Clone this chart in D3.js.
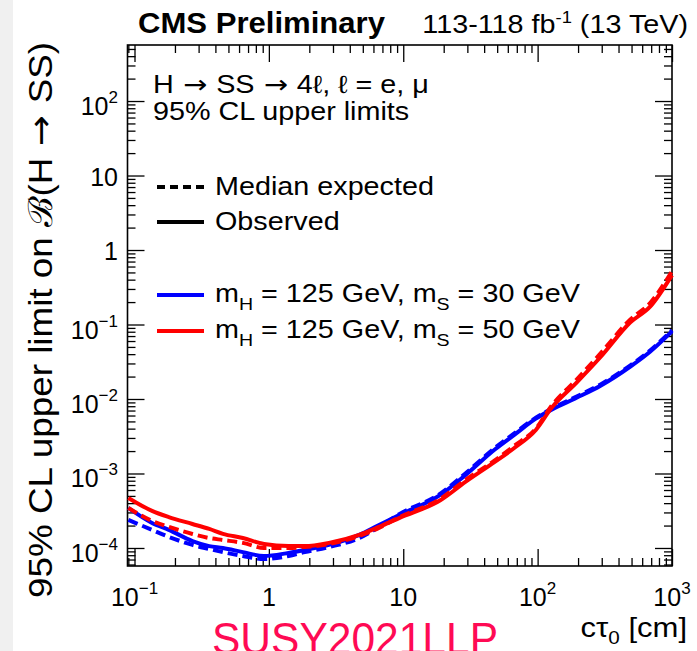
<!DOCTYPE html>
<html>
<head>
    <title>H to SS limits</title>
    <script src="https://d3js.org/d3.v7.min.js"></script>
    <style>
        body { margin: 0; background: #fff; }
        svg { display: block; }
        text { font-family: "Liberation Sans", Arial, Helvetica, sans-serif; fill: #000; }
        .arrow { font-family: "DejaVu Sans", sans-serif; }
        .tick line { stroke: #000; stroke-width: 1.3px; }
        .curve { fill: none; stroke-width: 4px; }
    </style>
</head>
<body>
    <svg></svg>
    <script>
        // c*tau0 [cm] sampled along the curves
        const ctau = [0.09, 0.135, 0.18, 0.27, 0.36, 0.455, 0.64, 0.92, 1.4, 1.85, 2.8, 4.7, 6.6, 9.4,
                      19, 29, 48, 67, 97, 127, 195, 294, 490, 690, 1000];

        // mS = 30 GeV
        const exp30 = [2.38e-4, 1.75e-4, 1.41e-4, 1.1e-4, 9.7e-5, 8.8e-5, 7.8e-5, 7.1e-5, 7.8e-5, 8.8e-5,
                       1.03e-4, 1.36e-4, 1.92e-4, 2.87e-4, 5.4e-4, 1.0e-3, 2.2e-3, 3.45e-3, 5.6e-3,
                       7.4e-3, 0.0108, 0.0157, 0.0283, 0.045, 0.084];
        const obs30 = [3.45e-4, 2.17e-4, 1.75e-4, 1.24e-4, 1.06e-4, 1.0e-4, 8.8e-5, 7.8e-5, 8.6e-5, 9.4e-5,
                       1.1e-4, 1.5e-4, 2.04e-4, 2.78e-4, 5.2e-4, 9.5e-4, 2.1e-3, 3.3e-3, 5.44e-3,
                       7.2e-3, 0.0104, 0.0151, 0.0273, 0.0435, 0.081];

        // mS = 50 GeV
        const exp50 = [3.45e-4, 2.31e-4, 1.92e-4, 1.54e-4, 1.36e-4, 1.28e-4, 1.17e-4, 1.0e-4, 1.0e-4, 1.03e-4,
                       1.13e-4, 1.45e-4, 1.86e-4, 2.6e-4, 4.6e-4, 8.2e-4, 1.5e-3, 2.35e-3, 4.0e-3,
                       8.1e-3, 0.0182, 0.0409, 0.117, 0.196, 0.52];
        const obs50 = [4.7e-4, 3.15e-4, 2.6e-4, 2.1e-4, 1.8e-4, 1.55e-4, 1.36e-4, 1.13e-4, 1.06e-4, 1.06e-4,
                       1.17e-4, 1.5e-4, 1.92e-4, 2.54e-4, 4.4e-4, 7.7e-4, 1.43e-3, 2.2e-3, 3.84e-3,
                       7.6e-3, 0.0166, 0.0366, 0.107, 0.175, 0.46];

        // tick labels
        const xTicks = [0.1, 1, 10, 100, 1000];
        const xTickBase = ["10", "1", "10", "10", "10"];
        const xTickExp = ["\u22121", "", "", "2", "3"];
        const yTicks = [1e-4, 1e-3, 1e-2, 1e-1, 1, 10, 100];
        const yTickBase = ["10", "10", "10", "10", "1", "10", "10"];
        const yTickExp = ["\u22124", "\u22123", "\u22122", "\u22121", "", "", "2"];

        // Configuración
        const width = 697, height = 651;
        const frame = { left: 127.5, right: 672, top: 45, bottom: 566 };
        const SX = 1.15; // text in the original is a bit wider than Arial

        const svg = d3.select("svg")
            .attr("width", width)
            .attr("height", height);

        svg.append("rect").attr("x", 0).attr("y", 0).attr("width", 13).attr("height", height)
            .attr("fill", "#f0f0f0");

        const x = d3.scaleLog().domain([0.0887, 1000]).range([frame.left, frame.right]);
        const y = d3.scaleLog().domain([5.73e-5, 565]).range([frame.bottom, frame.top]);

        // minor / major tick values
        const minorVals = (lo, hi) => {
            const out = [];
            for (let e = -6; e <= 4; e++) {
                for (let m = 2; m <= 9; m++) {
                    const v = m * Math.pow(10, e);
                    if (v >= lo && v <= hi) out.push(v);
                }
            }
            return out;
        };
        const xMinor = minorVals(0.0887, 1000);
        const yMinor = minorVals(5.73e-5, 565);

        function addAxis(axisFn, scale, vals, size, transform) {
            const g = svg.append("g")
                .attr("transform", transform)
                .call(axisFn(scale).tickValues(vals).tickSize(size).tickSizeOuter(0).tickFormat(""));
            g.select(".domain").remove();
        }

        // ticks on all four sides
        addAxis(d3.axisTop, x, xMinor, 8, `translate(0,${frame.bottom})`);
        addAxis(d3.axisTop, x, xTicks, 17, `translate(0,${frame.bottom})`);
        addAxis(d3.axisBottom, x, xMinor, 8, `translate(0,${frame.top})`);
        addAxis(d3.axisBottom, x, xTicks, 17, `translate(0,${frame.top})`);
        addAxis(d3.axisRight, y, yMinor, 8, `translate(${frame.left},0)`);
        addAxis(d3.axisRight, y, yTicks, 17, `translate(${frame.left},0)`);
        addAxis(d3.axisLeft, y, yMinor, 8, `translate(${frame.right},0)`);
        addAxis(d3.axisLeft, y, yTicks, 17, `translate(${frame.right},0)`);

        // frame
        svg.append("rect")
            .attr("x", frame.left).attr("y", frame.top)
            .attr("width", frame.right - frame.left).attr("height", frame.bottom - frame.top)
            .attr("fill", "none").attr("stroke", "#000").attr("stroke-width", 1.6);

        // tick labels
        function tickLabel(t, base, exp) {
            t.append("tspan").text(base);
            if (exp) t.append("tspan").attr("dy", -12).attr("font-size", 17).text(exp);
        }
        xTicks.forEach((v, i) => {
            const t = svg.append("text")
                .attr("x", x(v)).attr("y", 606)
                .attr("text-anchor", "middle").attr("font-size", 25);
            tickLabel(t, xTickBase[i], xTickExp[i]);
        });
        yTicks.forEach((v, i) => {
            const t = svg.append("text")
                .attr("x", 118).attr("y", y(v) + (yTickExp[i] ? 14 : 10))
                .attr("text-anchor", "end").attr("font-size", 25);
            tickLabel(t, yTickBase[i], yTickExp[i]);
        });

        // curves
        const line = vals => d3.line()
            .x((d, i) => x(ctau[i]))
            .y(d => y(d))
            .curve(d3.curveMonotoneX)(vals);

        const curves = [
            { vals: exp30, color: "#0000ff", dash: "10,5" },
            { vals: obs30, color: "#0000ff", dash: null },
            { vals: exp50, color: "#ff0000", dash: "10,5" },
            { vals: obs50, color: "#ff0000", dash: null }
        ];
        svg.append("g")
            .selectAll("path")
            .data(curves)
            .join("path")
            .attr("class", "curve")
            .attr("d", d => line(d.vals))
            .attr("stroke", d => d.color)
            .attr("stroke-dasharray", d => d.dash);

        // stretched text helper
        function label(xp, yp, size, anchor) {
            return svg.append("text")
                .attr("transform", `translate(${xp},${yp}) scale(${SX},1)`)
                .attr("text-anchor", anchor || "start")
                .attr("font-size", size);
        }
        const arrow = t => t.append("tspan").attr("class", "arrow").text(" \u2192 ");

        // title
        svg.append("text")
            .attr("x", 138).attr("y", 33)
            .attr("font-size", 29).attr("font-weight", "bold")
            .attr("textLength", 247).attr("lengthAdjust", "spacingAndGlyphs")
            .text("CMS Preliminary");

        const lumi = label(688, 33, 25, "end");
        lumi.append("tspan").text("113-118 fb");
        lumi.append("tspan").attr("dy", -10).attr("font-size", 16).text("-1");
        lumi.append("tspan").attr("dy", 10).text(" (13 TeV)");

        // process text
        const proc = label(153, 93, 25);
        proc.append("tspan").text("H");
        arrow(proc);
        proc.append("tspan").text("SS");
        arrow(proc);
        proc.append("tspan").text("4\u2113, \u2113 = e, \u03bc");
        label(153, 120, 25).text("95% CL upper limits");

        // legend
        const legend = [
            { y: 187, color: "#000", dash: "8,5", text: "Median expected" },
            { y: 222, color: "#000", dash: null, text: "Observed" }
        ];
        legend.forEach(d => {
            svg.append("line")
                .attr("x1", 157).attr("x2", 204).attr("y1", d.y).attr("y2", d.y)
                .attr("stroke", d.color).attr("stroke-width", 4)
                .attr("stroke-dasharray", d.dash);
            label(215, d.y + 8, 25).text(d.text);
        });

        const massLegend = [
            { y: 295, color: "#0000ff", ms: "30" },
            { y: 331, color: "#ff0000", ms: "50" }
        ];
        massLegend.forEach(d => {
            svg.append("line")
                .attr("x1", 157).attr("x2", 204).attr("y1", d.y).attr("y2", d.y)
                .attr("stroke", d.color).attr("stroke-width", 4);
            const t = label(215, d.y + 7, 25);
            t.append("tspan").text("m");
            t.append("tspan").attr("dy", 8).attr("font-size", 17).text("H");
            t.append("tspan").attr("dy", -8).text(" = 125 GeV, m");
            t.append("tspan").attr("dy", 8).attr("font-size", 17).text("S");
            t.append("tspan").attr("dy", -8).text(` = ${d.ms} GeV`);
        });

        // axis titles
        const xt = label(687, 637, 27, "end");
        xt.append("tspan").text("c\u03c4");
        xt.append("tspan").attr("dy", 7).attr("font-size", 18).text("0");
        xt.append("tspan").attr("dy", -7).text(" [cm]");

        const yt = svg.append("text")
            .attr("transform", `translate(52,320) scale(${SX},1) rotate(-90)`)
            .attr("text-anchor", "middle")
            .attr("font-size", 29)
            .attr("textLength", 556).attr("lengthAdjust", "spacingAndGlyphs");
        yt.append("tspan").text("95% CL upper limit on \u212C(H");
        arrow(yt);
        yt.append("tspan").text("SS)");

        // slide footer text (cut by the bottom edge, as in the original)
        svg.append("text")
            .attr("x", 212).attr("y", 654)
            .attr("font-family", "'Open Sans', 'DejaVu Sans', sans-serif")
            .attr("font-size", 44)
            .attr("textLength", 286).attr("lengthAdjust", "spacingAndGlyphs")
            .style("fill", "#ff0a54")
            .text("SUSY2021LLP");
    </script>
</body>
</html>
